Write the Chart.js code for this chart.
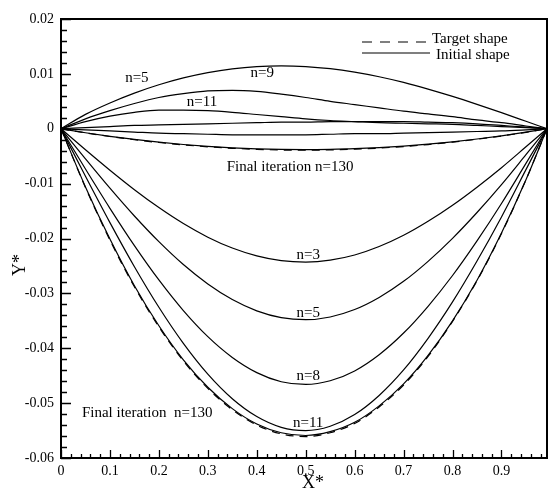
<!DOCTYPE html>
<html><head><meta charset="utf-8">
<script src="https://cdn.jsdelivr.net/npm/chart.js@4"></script>
<style>html,body{margin:0;padding:0;background:#fff}canvas{display:block}</style>
</head><body>
<canvas id="c" width="548" height="490" style="width:548px;height:490px"></canvas>
<script>
// ---- data ----
const xs = [0,0.05,0.1,0.15,0.2,0.25,0.3,0.35,0.4,0.45,0.5,0.55,0.6,0.65,0.7,0.75,0.8,0.85,0.9,0.95,0.993];

// upper family (initial positive shape converging to a shallow target)
const upA = [0,0.00262,0.00470,0.00649,0.00801,0.00926,0.01023,0.01092,0.01133,0.01146,0.01133,0.01094,0.01031,0.00947,0.00844,0.00723,0.00589,0.00444,0.00293,0.00136,0];
const upB = [0,0.0018,0.0033,0.0046,0.0057,0.0064,0.0069,0.0070,0.0068,0.0063,0.0057,0.0050,0.0044,0.0038,0.0032,0.0027,0.0022,0.0016,0.0011,0.0005,0];
const upC = [0,0.0013,0.0023,0.0030,0.0034,0.0034,0.0033,0.0030,0.0026,0.0022,0.0018,0.0015,0.0013,0.0011,0.0010,0.0009,0.0008,0.0006,0.0004,0.0002,0];
const upD = [0,0.0002,0.0004,0.0006,0.0007,0.0008,0.0009,0.0010,0.0011,0.0012,0.0012,0.0013,0.0013,0.0013,0.0013,0.0012,0.0011,0.0009,0.0006,0.0003,0];
const upE = [0,-0.0002,-0.0004,-0.0006,-0.0008,-0.0009,-0.0010,-0.0011,-0.0011,-0.0011,-0.0011,-0.0010,-0.0009,-0.0009,-0.0008,-0.0007,-0.0006,-0.0005,-0.0004,-0.0002,0];
const upFinal = [0,-0.00073,-0.00138,-0.00195,-0.00245,-0.00287,-0.00321,-0.00347,-0.00366,-0.00377,-0.00380,-0.00375,-0.00364,-0.00344,-0.00316,-0.00281,-0.00238,-0.00187,-0.00129,-0.00063,0];
const upTarget = [0,-0.00075,-0.00141,-0.00200,-0.00251,-0.00294,-0.00329,-0.00356,-0.00375,-0.00387,-0.00390,-0.00385,-0.00373,-0.00353,-0.00325,-0.00288,-0.00244,-0.00192,-0.00132,-0.00065,0];

// lower family (iterations n=3,5,8,11 and final n=130 converging to deep target)
const lowN3 = [0,-0.00383,-0.00756,-0.01111,-0.01437,-0.01728,-0.01976,-0.02174,-0.02317,-0.02404,-0.0243,-0.02395,-0.02301,-0.02147,-0.01942,-0.01687,-0.01394,-0.01065,-0.00710,-0.00329,0];
const lowN5 = [0,-0.00548,-0.01083,-0.01590,-0.02058,-0.02475,-0.02829,-0.03113,-0.03318,-0.03442,-0.0348,-0.03430,-0.03295,-0.03075,-0.02781,-0.02416,-0.01997,-0.01526,-0.01017,-0.00472,0];
const lowN8 = [0,-0.00734,-0.01450,-0.02130,-0.02756,-0.03314,-0.03789,-0.04168,-0.04444,-0.04610,-0.0466,-0.04593,-0.04413,-0.04118,-0.03723,-0.03235,-0.02674,-0.02043,-0.01362,-0.00631,0];
const lowN11 = [0,-0.00866,-0.01711,-0.02514,-0.03253,-0.03911,-0.04472,-0.04920,-0.05245,-0.05441,-0.0550,-0.05421,-0.05208,-0.04860,-0.04395,-0.03819,-0.03156,-0.02411,-0.01607,-0.00745,0];
const lowFinal = [0,-0.0106,-0.0201,-0.0286,-0.0359,-0.0421,-0.0471,-0.0510,-0.0538,-0.0554,-0.0559,-0.0552,-0.0535,-0.0505,-0.0465,-0.0413,-0.0350,-0.0276,-0.0190,-0.0093,0];
const lowTarget = [0,-0.0107,-0.0203,-0.0288,-0.0361,-0.0423,-0.0473,-0.0512,-0.0540,-0.0556,-0.0561,-0.0554,-0.0537,-0.0507,-0.0467,-0.0415,-0.0351,-0.0277,-0.0191,-0.0093,0];

// axes
const xTickValues = [0,0.1,0.2,0.3,0.4,0.5,0.6,0.7,0.8,0.9];
const yTickValues = [0.02,0.01,0,-0.01,-0.02,-0.03,-0.04,-0.05,-0.06];
const xMin = 0, xMax = 0.993, yMin = -0.06, yMax = 0.02;

// text annotations placed in data coordinates
const notes = [
  {t:'n=5', x:0.155, y:0.0092},
  {t:'n=9', x:0.411, y:0.0101},
  {t:'n=11', x:0.288, y:0.0048},
  {t:'Final iteration n=130', x:0.468, y:-0.0070},
  {t:'n=3', x:0.505, y:-0.0231},
  {t:'n=5', x:0.505, y:-0.0335},
  {t:'n=8', x:0.505, y:-0.0450},
  {t:'n=11', x:0.505, y:-0.0536},
  {t:'Final iteration  n=130', x:0.176, y:-0.0519}
];

const SERIF = "'Liberation Serif','Times New Roman',serif";

function pts(ys){ return xs.map((x,i)=>({x:x,y:ys[i]})); }
function solid(label, ys){ return {label, data:pts(ys), borderColor:'#000', borderWidth:1.2, pointRadius:0, fill:false, cubicInterpolationMode:'monotone'}; }
function dashed(label, ys){ return {label, data:pts(ys), borderColor:'#000', borderWidth:1.2, borderDash:[8,6], pointRadius:0, fill:false, cubicInterpolationMode:'monotone'}; }

const decor = {
  id:'decor',
  afterDraw(chart){
    const ctx = chart.ctx, a = chart.chartArea;
    const sx = chart.scales.x, sy = chart.scales.y;
    ctx.save();
    ctx.strokeStyle = '#000'; ctx.fillStyle = '#000';
    // frame
    ctx.lineWidth = 2;
    ctx.strokeRect(a.left, a.top, a.right - a.left, a.bottom - a.top);
    // y ticks (inside)
    ctx.lineWidth = 1.3;
    ctx.beginPath();
    for (let k = 0; k <= 40; k++) {
      const v = yMin + k * 0.002;
      const py = Math.round(sy.getPixelForValue(v)) + 0.5;
      const major = (k % 5 === 0);
      ctx.moveTo(a.left, py); ctx.lineTo(a.left + (major ? 10 : 6), py);
    }
    // x ticks (inside)
    for (let k = 0; k <= 49; k++) {
      const v = k * 0.02;
      if (v > xMax) break;
      const px = Math.round(sx.getPixelForValue(v)) + 0.5;
      const major = (k % 5 === 0);
      ctx.moveTo(px, a.bottom); ctx.lineTo(px, a.bottom - (major ? 8 : 4));
    }
    ctx.stroke();
    // annotations
    ctx.font = '15px ' + SERIF;
    ctx.textAlign = 'center'; ctx.textBaseline = 'middle';
    notes.forEach(n => ctx.fillText(n.t, sx.getPixelForValue(n.x), sy.getPixelForValue(n.y)));
    // legend
    ctx.lineWidth = 1.2;
    ctx.setLineDash([10,8]);
    ctx.beginPath(); ctx.moveTo(362, 42); ctx.lineTo(430, 42); ctx.stroke();
    ctx.setLineDash([]);
    ctx.beginPath(); ctx.moveTo(362, 53); ctx.lineTo(430, 53); ctx.stroke();
    ctx.textAlign = 'left'; ctx.textBaseline = 'alphabetic';
    ctx.fillText('Target shape', 432, 43);
    ctx.fillText('Initial shape', 436, 59);
    // axis titles
    ctx.font = '18px ' + SERIF;
    ctx.textAlign = 'center'; ctx.textBaseline = 'middle';
    ctx.fillText('X*', 313, 483);
    ctx.translate(20, 265); ctx.rotate(-Math.PI/2);
    ctx.fillText('Y*', 0, 0);
    ctx.restore();
  }
};

new Chart(document.getElementById('c'), {
  type:'line',
  data:{ datasets:[
    solid('upA', upA), solid('upB', upB), solid('upC', upC), solid('upD', upD), solid('upE', upE),
    solid('upFinal', upFinal), dashed('upTarget', upTarget),
    solid('n=3', lowN3), solid('n=5', lowN5), solid('n=8', lowN8), solid('n=11', lowN11),
    solid('Final', lowFinal), dashed('Target', lowTarget)
  ]},
  options:{
    responsive:false, devicePixelRatio:1, animation:false,
    layout:{ padding:{left:0, right:1, top:19, bottom:0} },
    plugins:{ legend:{display:false}, tooltip:{enabled:false}, title:{display:false} },
    scales:{
      x:{ type:'linear', min:xMin, max:xMax,
        afterBuildTicks(s){ s.ticks = xTickValues.map(v=>({value:v})); },
        afterFit(s){ s.height = 32; },
        grid:{display:false, drawTicks:false}, border:{display:false},
        ticks:{ autoSkip:false, maxRotation:0, padding:5, color:'#000', font:{family:SERIF, size:14},
          callback:(v)=> (v===0 ? '0' : String(Math.round(v*10)/10)) }
      },
      y:{ type:'linear', min:yMin, max:yMax,
        afterBuildTicks(s){ s.ticks = yTickValues.map(v=>({value:v})); },
        afterFit(s){ s.width = 61; },
        grid:{display:false, drawTicks:false}, border:{display:false},
        ticks:{ autoSkip:false, padding:7, color:'#000', font:{family:SERIF, size:14},
          callback:(v)=> (Math.abs(v)<1e-9 ? '0' : (Math.round(v*100)/100).toFixed(2)) }
      }
    }
  },
  plugins:[decor]
});
</script>
</body></html>
